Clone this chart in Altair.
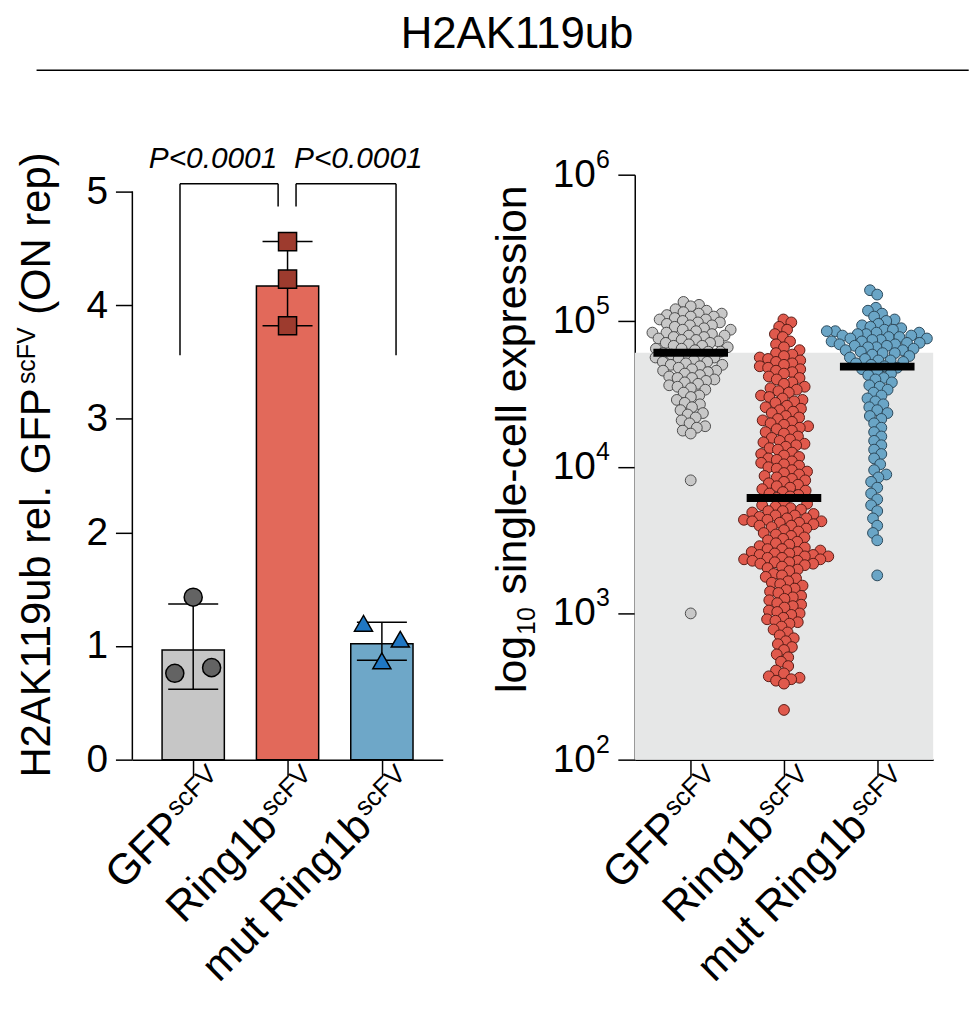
import math
import altair as alt
import pandas as pd

FONT = "Liberation Sans"

# ---------------- data ----------------
title_text = "H2AK119ub"
groups = ["GFP", "Ring1b", "mut Ring1b"]
label_sup = "scFV"

# left panel: bar = mean, whiskers = SD, three replicates each
bar_mean = [0.965, 4.17, 1.02]
bar_err_lo = [0.62, 3.82, 0.875]
bar_err_hi = [1.37, 4.56, 1.21]
rep_gfp = [1.43, 0.76, 0.81]
rep_ring1b = [4.56, 4.23, 3.82]
rep_mut = [1.20, 1.06, 0.87]
left_ticks = [0, 1, 2, 3, 4, 5]

p_labels = ["P<0.0001", "P<0.0001"]
bracket_from = [0, 1]
bracket_to = [1, 2]

# right panel: single-cell values (log10 units)
cells_gfp = [
    5.13, 5.11, 5.10, 5.08, 5.07, 5.06,
    5.05, 5.05, 5.04, 5.03, 5.03, 5.02, 5.01, 5.01, 5.00, 4.99, 4.99, 4.98, 4.97, 4.97,
    4.96, 4.95, 4.94, 4.94, 4.93,
    4.92, 4.92, 4.91, 4.90, 4.90, 4.89, 4.89, 4.88, 4.87, 4.87, 4.86, 4.85, 4.85, 4.84,
    4.83, 4.83, 4.82, 4.81, 4.81, 4.80, 4.79, 4.79, 4.78, 4.77, 4.77, 4.76, 4.75, 4.75,
    4.74, 4.73, 4.72, 4.72, 4.71, 4.70, 4.70, 4.69, 4.68, 4.67, 4.66, 4.66,
    4.65, 4.64, 4.63, 4.62, 4.61, 4.61, 4.60, 4.59, 4.58, 4.57, 4.56, 4.55, 4.54, 4.53,
    4.51, 4.49, 4.48, 4.46, 4.44, 4.43, 4.41, 4.39, 4.37, 4.36, 4.34, 4.32,
    4.30, 4.28, 4.27, 4.25, 4.23,
    3.91, 3.00,
]
cells_ring1b = [
    5.01, 4.99, 4.96, 4.94,
    4.91, 4.89, 4.86, 4.84, 4.82, 4.80,
    4.78, 4.77, 4.76, 4.75, 4.74, 4.73, 4.72, 4.71, 4.70, 4.69, 4.68, 4.67, 4.66, 4.65,
    4.64, 4.62, 4.61, 4.60, 4.58, 4.57,
    4.55, 4.54, 4.53, 4.52, 4.51, 4.49, 4.48, 4.47, 4.46, 4.45, 4.44, 4.42, 4.41, 4.40,
    4.39, 4.38, 4.37, 4.35, 4.34, 4.33, 4.32, 4.31, 4.30, 4.29, 4.28, 4.27, 4.26, 4.25,
    4.24, 4.23,
    4.21, 4.20, 4.19, 4.18, 4.17, 4.16, 4.15, 4.14, 4.13, 4.12, 4.10, 4.09, 4.08, 4.07,
    4.06, 4.05, 4.04, 4.03, 4.02, 4.01, 4.00, 3.99, 3.98, 3.97, 3.96, 3.95, 3.94, 3.93,
    3.92, 3.91, 3.90, 3.89, 3.88, 3.87,
    3.86, 3.85, 3.84, 3.83, 3.82, 3.81, 3.80, 3.79,
    3.76, 3.75, 3.74, 3.73, 3.72, 3.71, 3.70, 3.70, 3.69, 3.68, 3.67, 3.67, 3.66, 3.65,
    3.65, 3.64, 3.64, 3.63, 3.63, 3.62, 3.62, 3.61, 3.60, 3.60, 3.59, 3.58, 3.57, 3.56,
    3.55, 3.54, 3.53, 3.52, 3.51, 3.50, 3.49, 3.48, 3.47, 3.46, 3.45, 3.44, 3.44, 3.43,
    3.42, 3.42, 3.41, 3.41, 3.40, 3.40, 3.39, 3.39, 3.38, 3.38, 3.37, 3.37, 3.36, 3.36,
    3.35, 3.35, 3.34, 3.34, 3.33,
    3.32, 3.31, 3.30, 3.29, 3.27, 3.26, 3.25, 3.24, 3.22, 3.21, 3.20, 3.19, 3.17, 3.16,
    3.15, 3.14, 3.12, 3.11, 3.10, 3.09, 3.07, 3.06, 3.05, 3.04, 3.02, 3.01, 3.00, 2.99,
    2.97, 2.96, 2.95, 2.94, 2.93,
    2.91, 2.89, 2.87, 2.85, 2.83, 2.81, 2.79, 2.77, 2.75,
    2.72, 2.70, 2.67, 2.64, 2.61, 2.59, 2.57, 2.56, 2.55, 2.54, 2.52,
    2.34,
]
cells_mut = [
    5.21, 5.18,
    5.09, 5.07, 5.05, 5.03,
    5.01, 5.00, 4.98, 4.97, 4.96,
    4.95, 4.94, 4.94, 4.93, 4.93, 4.92, 4.92, 4.91, 4.91, 4.90, 4.90, 4.89, 4.89, 4.88,
    4.88, 4.87, 4.87, 4.86, 4.86, 4.85, 4.85, 4.84, 4.84, 4.83, 4.83, 4.82, 4.82, 4.81,
    4.80, 4.80, 4.79, 4.78, 4.78, 4.77, 4.76, 4.75, 4.74, 4.73, 4.73, 4.72, 4.71, 4.70,
    4.69, 4.68, 4.67, 4.66, 4.64, 4.63, 4.61, 4.60, 4.58, 4.56, 4.55, 4.53,
    4.51, 4.49, 4.47, 4.45, 4.43, 4.41, 4.39, 4.37, 4.35, 4.33,
    4.30, 4.27, 4.24, 4.21, 4.18, 4.15, 4.12, 4.09, 4.06,
    4.02, 3.98, 3.95, 3.93, 3.90, 3.86, 3.82, 3.78, 3.74, 3.70, 3.65, 3.60, 3.55, 3.50,
    3.26,
]
cell_medians = [6.05e4, 6.15e3, 4.87e4]
right_tick_exps = [2, 3, 4, 5, 6]

# ---------------- styles ----------------
bar_fill = ["#c6c6c6", "#e2695a", "#6ea7c8"]
rep_fill = ["#636363", "#9d3b2e", "#1f77c4"]
rep_shape = ["circle", "square", "triangle-up"]
rep_size = [330, 330, 430]
cell_fill = ["#c8c8c8", "#e0594c", "#6aa5c6"]
cell_stroke = ["#4d4d4d", "#5a1c16", "#2c4a5c"]
shade_color = "#e6e7e7"

LW, RW, H = 312, 300, 588
GAP = 193
L_XDOM = [-0.645, 2.645]
R_XDOM = [-0.6, 2.6]
L_YDOM = [0, 5.149]
L_PPU_X = LW / (L_XDOM[1] - L_XDOM[0])
R_PPU_X = RW / (R_XDOM[1] - R_XDOM[0])
R_PPD_Y = H / 4.0

ARIAL = {" ": 278, "(": 333, ")": 333, ".": 278, "-": 333, "<": 584, "A": 667, "F": 611,
         "G": 778, "H": 722, "K": 667, "N": 722, "O": 778, "P": 667, "R": 722, "V": 667,
         "b": 556, "c": 500, "e": 556, "g": 556, "i": 222, "l": 222, "m": 833, "n": 556,
         "o": 556, "p": 556, "r": 333, "s": 500, "t": 278, "u": 556, "x": 500}


def tw(s, size):
    return sum(ARIAL.get(ch, 556) for ch in s) / 1000.0 * size


def cluster_offsets(vals, spacing_px, gap):
    order = sorted(range(len(vals)), key=lambda i: vals[i])
    clusters, cur = [], [order[0]]
    for a, b in zip(order, order[1:]):
        if vals[b] - vals[a] < gap:
            cur.append(b)
        else:
            clusters.append(cur)
            cur = [b]
    clusters.append(cur)
    offs = [0.0] * len(vals)
    for c in clusters:
        c = sorted(c)
        for k, i in enumerate(c):
            offs[i] = (k - (len(c) - 1) / 2) * spacing_px
    return offs


def swarm_offsets(vals, d, ppd):
    offs = [0.0] * len(vals)
    placed = []
    for i in sorted(range(len(vals)), key=lambda j: vals[j]):
        y = vals[i] * ppd
        near = [(px, py) for px, py in placed if abs(py - y) < d]
        cands = [0.0]
        for px, py in near:
            dx = math.sqrt(d * d - (py - y) ** 2)
            cands += [px + dx, px - dx]
        cands.sort(key=lambda c: (abs(c), c))
        chosen = 0.0
        for c in cands:
            if all((c - px) ** 2 + (y - py) ** 2 >= d * d - 1e-6 for px, py in near):
                chosen = c
                break
        placed.append((chosen, y))
        offs[i] = chosen
    return offs


# ---------------- tables ----------------
bars = pd.DataFrame({
    "group": groups, "idx": [0, 1, 2], "mean": bar_mean,
    "lo": bar_err_lo, "hi": bar_err_hi,
})
bars["x0"] = bars["idx"] - 0.33
bars["x1"] = bars["idx"] + 0.33
bars["c0"] = bars["idx"] - 0.265
bars["c1"] = bars["idx"] + 0.265

rep_rows = []
for gi, vals in enumerate([rep_gfp, rep_ring1b, rep_mut]):
    offs = cluster_offsets(vals, 37, 0.16)
    for v, o in zip(vals, offs):
        rep_rows.append({"group": groups[gi], "x": gi + o / L_PPU_X, "value": v})
reps = pd.DataFrame(rep_rows)

seg_rows = []
for k, (a, b) in enumerate(zip(bracket_from, bracket_to)):
    xa = a - 0.14 if k == 0 else a + 0.09
    xb = b - 0.10 if k == 0 else b + 0.15
    top = 5.07
    la = 3.56 if k == 0 else 4.87
    lb = 4.87 if k == 0 else 3.56
    seg_rows += [
        {"x": xa, "x2": xa, "y": la, "y2": top},
        {"x": xa, "x2": xb, "y": top, "y2": top},
        {"x": xb, "x2": xb, "y": lb, "y2": top},
    ]
segs = pd.DataFrame(seg_rows)
ptext = pd.DataFrame({"x": [0.21, 1.75], "y": [5.21, 5.21], "t": p_labels})

LAB_SHIFT = 35
labels = pd.DataFrame({"main": groups, "sup": [label_sup] * 3})
labels["lx_l"] = [i + LAB_SHIFT / L_PPU_X for i in range(3)]
labels["lx_r"] = [i + LAB_SHIFT / R_PPU_X for i in range(3)]

cell_rows = []
for gi, vals in enumerate([cells_gfp, cells_ring1b, cells_mut]):
    offs = swarm_offsets(vals, 8.5, R_PPD_Y)
    for v, o in zip(vals, offs):
        cell_rows.append({"group": groups[gi], "x": gi + o / R_PPU_X, "value": 10 ** v})
cells = pd.DataFrame(cell_rows)

meds = pd.DataFrame({"idx": [0, 1, 2], "m": cell_medians})
meds["x0"] = meds["idx"] - 0.4
meds["x1"] = meds["idx"] + 0.4
shade = pd.DataFrame({"x0": [R_XDOM[0]], "x1": [R_XDOM[1]], "y0": [100.0], "y1": [cell_medians[0]]})
rticks = pd.DataFrame({"v": [10.0 ** e for e in right_tick_exps], "e": [str(e) for e in right_tick_exps]})

# ---------------- shared label helpers ----------------
SUP = 26
SUP_DY = -14
MAIN = 43


def xlabels(field):
    main = alt.Chart(labels).mark_text(font=FONT, fontSize=MAIN, angle=315, align="right",
                                       baseline="alphabetic", dx=-(tw(label_sup, SUP) + 2)).encode(
        x=f"{field}:Q", y=alt.value(H + 26), text="main:N")
    sup = alt.Chart(labels).mark_text(font=FONT, fontSize=SUP, angle=315, align="right",
                                      baseline="alphabetic", dy=SUP_DY).encode(
        x=f"{field}:Q", y=alt.value(H + 26), text="sup:N")
    return [main, sup]


def vtitle(parts, sizes, dys, x_px, y_px):
    layers = []
    df = pd.DataFrame({"p%d" % i: [p.strip()] for i, p in enumerate(parts)})
    off = 0.0
    for i, (p, s, dy) in enumerate(zip(parts, sizes, dys)):
        lead = tw(p[: len(p) - len(p.lstrip())], s)
        off += lead
        layers.append(alt.Chart(df).mark_text(font=FONT, fontSize=s, angle=270, align="left",
                                               baseline="alphabetic", dx=off, dy=dy).encode(
            x=alt.value(x_px), y=alt.value(y_px), text="p%d:N" % i))
        off += tw(p.strip(), s) + 1
    return layers


# ---------------- left panel ----------------
lx = alt.Scale(domain=L_XDOM, nice=False, zero=False)
ly = alt.Scale(domain=L_YDOM, nice=False, zero=False)
x_axis = alt.Axis(values=[0, 1, 2], labels=False, tickSize=17, tickWidth=1.5, domainWidth=1.5,
                  domainColor="black", tickColor="black", grid=False, title=None)
fill_scale = alt.Scale(domain=groups, range=bar_fill)

bar_layer = alt.Chart(bars).mark_bar(stroke="black", strokeWidth=1.5).encode(
    x=alt.X("x0:Q", scale=lx, axis=x_axis),
    x2="x1:Q",
    y=alt.Y("mean:Q", scale=ly, axis=alt.Axis(values=left_ticks, format="d", tickSize=17,
            tickWidth=1.5, tickColor="black", domain=False, labelFontSize=39, labelFont=FONT,
            labelColor="black", labelPadding=8, grid=False, title=None)),
    y2=alt.datum(0),
    color=alt.Color("group:N", scale=fill_scale, legend=None),
)
err_v = alt.Chart(bars).mark_rule(color="black", strokeWidth=1.5).encode(
    x="idx:Q", y="lo:Q", y2="hi:Q")
err_lo = alt.Chart(bars).mark_rule(color="black", strokeWidth=1.5).encode(
    x="c0:Q", x2="c1:Q", y="lo:Q")
err_hi = alt.Chart(bars).mark_rule(color="black", strokeWidth=1.5).encode(
    x="c0:Q", x2="c1:Q", y="hi:Q")
rep_layer = alt.Chart(reps).mark_point(filled=True, stroke="black", strokeWidth=1.5,
                                       opacity=1).encode(
    x="x:Q", y="value:Q",
    shape=alt.Shape("group:N", scale=alt.Scale(domain=groups, range=rep_shape), legend=None),
    fill=alt.Fill("group:N", scale=alt.Scale(domain=groups, range=rep_fill), legend=None),
    size=alt.Size("group:N", scale=alt.Scale(domain=groups, range=rep_size), legend=None),
)
seg_layer = alt.Chart(segs).mark_rule(color="black", strokeWidth=1.5).encode(
    x="x:Q", x2="x2:Q", y="y:Q", y2="y2:Q")
p_layer = alt.Chart(ptext).mark_text(font=FONT, fontSize=30, fontStyle="italic", color="black",
                                     baseline="alphabetic").encode(x="x:Q", y="y:Q", text="t:N")
l_axisline = alt.Chart(bars.head(1)).mark_rule(color="black", strokeWidth=1.5).encode(
    x=alt.datum(L_XDOM[0]), y=alt.datum(0), y2=alt.datum(5))

ltitle = vtitle(["H2AK119ub rel. GFP", "scFV", " (ON rep)"], [42, 25, 42], [0, -15, 0], -83, 606)

left = alt.layer(bar_layer, err_v, err_lo, err_hi, rep_layer, seg_layer, p_layer, l_axisline,
                 *xlabels("lx_l"), *ltitle).properties(width=LW, height=H)

# ---------------- right panel ----------------
rx = alt.Scale(domain=R_XDOM, nice=False, zero=False)
ry = alt.Scale(type="log", domain=[100, 1e6], nice=False)
shade_layer = alt.Chart(shade).mark_rect(color=shade_color).encode(
    x=alt.X("x0:Q", scale=rx, axis=x_axis), x2="x1:Q",
    y=alt.Y("y0:Q", scale=ry, axis=alt.Axis(values=[10.0 ** e for e in right_tick_exps], labels=False,
            tickSize=17, tickWidth=1.5, tickColor="black", domainWidth=1.5, domainColor="black",
            grid=False, title=None)),
    y2="y1:Q",
)
cell_layer = alt.Chart(cells).mark_point(filled=True, size=118, strokeWidth=1, opacity=1).encode(
    x="x:Q", y="value:Q",
    fill=alt.Fill("group:N", scale=alt.Scale(domain=groups, range=cell_fill), legend=None),
    stroke=alt.Stroke("group:N", scale=alt.Scale(domain=groups, range=cell_stroke), legend=None),
)
med_layer = alt.Chart(meds).mark_rule(color="black", strokeWidth=8).encode(
    x="x0:Q", x2="x1:Q", y="m:Q")
rt_main = alt.Chart(rticks).mark_text(font=FONT, fontSize=39, align="right", baseline="middle",
                                      dx=-14).encode(x=alt.value(-25), y="v:Q", text=alt.value("10"))
rt_sup = alt.Chart(rticks).mark_text(font=FONT, fontSize=25, align="right", baseline="middle",
                                     dy=-15).encode(x=alt.value(-25), y="v:Q", text="e:N")

rtitle = vtitle(["log", "10", " single-cell expression"], [43, 25, 43], [0, 9, 0], -109, 521)

right = alt.layer(shade_layer, cell_layer, med_layer, rt_main, rt_sup, *xlabels("lx_r"),
                  *rtitle).properties(width=RW, height=H)

# ---------------- header ----------------
head_df = pd.DataFrame({"t": [title_text]})
head_text = alt.Chart(head_df).mark_text(font=FONT, fontSize=44, baseline="alphabetic",
                                         align="center").encode(
    x=alt.value(386.7), y=alt.value(38), text="t:N")
head_rule = alt.Chart(head_df).mark_rule(color="black", strokeWidth=1.5).encode(
    x=alt.value(-96.3), x2=alt.value(840.7), y=alt.value(60))
header = alt.layer(head_text, head_rule).properties(width=LW + GAP + RW, height=60)

row = alt.hconcat(left, right, spacing=GAP, bounds="flush").resolve_scale(
    color="independent", fill="independent", stroke="independent", shape="independent",
    size="independent")
chart = alt.vconcat(header, row, spacing=105, bounds="flush").properties(
    padding={"left": 6, "top": 0, "right": 0, "bottom": 0}
).configure(font=FONT).configure_view(stroke=None)

chart.save("out.html", embed_options={"renderer": "svg", "actions": False})
